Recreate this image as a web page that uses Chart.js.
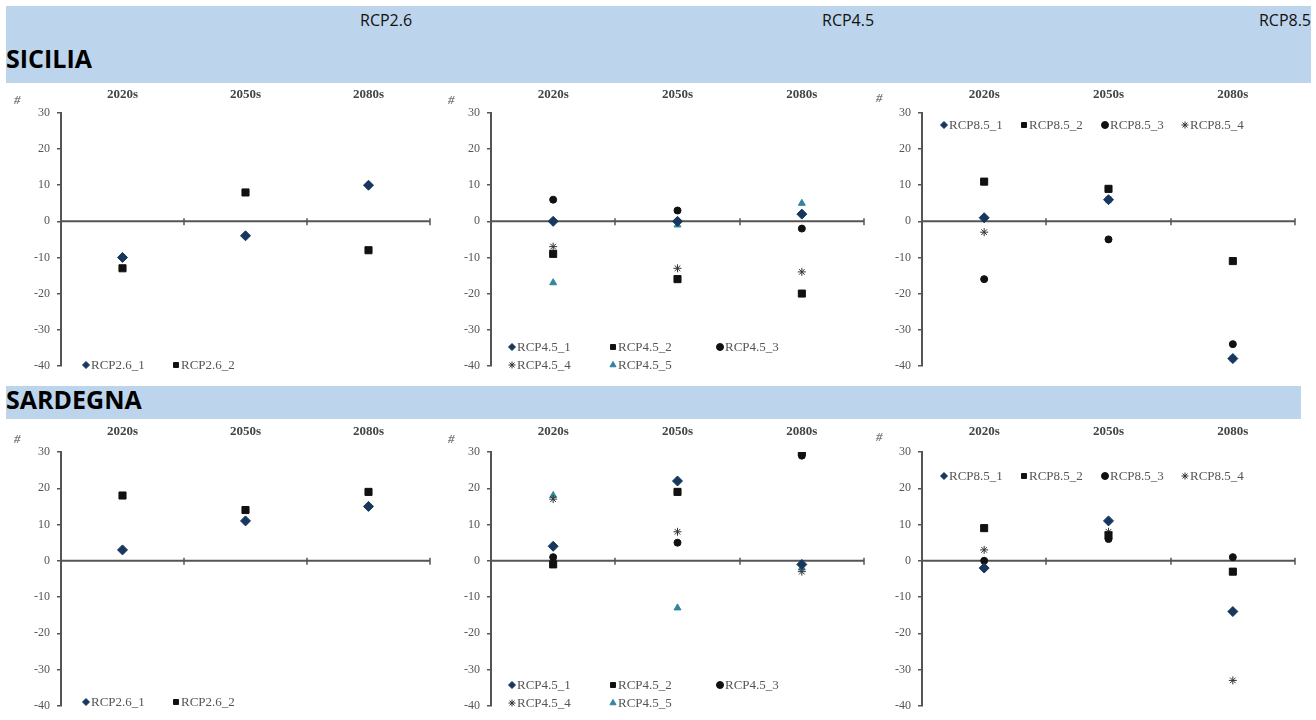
<!DOCTYPE html>
<html>
<head>
<meta charset="utf-8">
<script src="https://cdn.jsdelivr.net/npm/chart.js@4.4.1/dist/chart.umd.min.js"></script>
<style>
  body { margin: 0; background: #fff; width: 1316px; height: 720px; position: relative; overflow: hidden; font-family: "Open Sans", sans-serif; }
  .band { position: absolute; background: #bdd5ec; }
  .band span { position: absolute; white-space: nowrap; }
  .rcp { font-size: 16px; color: #111; }
  .region { font-size: 25px; font-weight: bold; color: #000; }
  .box { position: absolute; }
</style>
</head>
<body>

<div class="band" style="left:6px;top:6px;width:1305px;height:77px;">
  <span class="rcp" style="left:354px;top:3px;">RCP2.6</span>
  <span class="rcp" style="left:816px;top:3px;">RCP4.5</span>
  <span class="rcp" style="right:0;top:3px;">RCP8.5</span>
  <span class="region" style="left:0;top:35px;">SICILIA</span>
</div>
<div class="band" style="left:6px;top:386px;width:1295px;height:33px;">
  <span class="region" style="left:0;top:-4px;">SARDEGNA</span>
</div>

<div class="box" style="left:0;top:84px;width:436px;height:296px;"><canvas id="sic26"></canvas></div>
<div class="box" style="left:436px;top:84px;width:434px;height:296px;"><canvas id="sic45"></canvas></div>
<div class="box" style="left:870px;top:84px;width:446px;height:296px;"><canvas id="sic85"></canvas></div>
<div class="box" style="left:0;top:420px;width:436px;height:300px;"><canvas id="sar26"></canvas></div>
<div class="box" style="left:436px;top:420px;width:434px;height:300px;"><canvas id="sar45"></canvas></div>
<div class="box" style="left:870px;top:420px;width:446px;height:300px;"><canvas id="sar85"></canvas></div>

<script>
// dati (variazione %)
const categories = ['2020s', '2050s', '2080s'];
const yMin = -40, yMax = 30, yStep = 10;

const sic26_1 = [-10, -4, 10];
const sic26_2 = [-13, 8, -8];

const sic45_1 = [0, 0, 2];
const sic45_2 = [-9, -16, -20];
const sic45_3 = [6, 3, -2];
const sic45_4 = [-7, -13, -14];
const sic45_5 = [-17, -1, 5];

const sic85_1 = [1, 6, -38];
const sic85_2 = [11, 9, -11];
const sic85_3 = [-16, -5, -34];
const sic85_4 = [-3, 6, -38];

const sar26_1 = [3, 11, 15];
const sar26_2 = [18, 14, 19];

const sar45_1 = [4, 22, -1];
const sar45_2 = [-1, 19, 30];
const sar45_3 = [1, 5, 29];
const sar45_4 = [17, 8, -3];
const sar45_5 = [18, -13, -2];

const sar85_1 = [-2, 11, -14];
const sar85_2 = [9, 7, -3];
const sar85_3 = [0, 6, 1];
const sar85_4 = [3, 8, -33];

const axisColor = '#555';
const textColor = '#555';
const serif = '"Liberation Serif", "DejaVu Serif", serif';

// stile per serie: _1 rombo blu, _2 quadrato, _3 cerchio, _4 asterisco, _5 triangolo
const markers = [
  { pointStyle: 'rectRot', color: '#17375e', radius: 5 },
  { pointStyle: 'rect', color: '#111', radius: 5 },
  { pointStyle: 'circle', color: '#111', radius: 3.5 },
  { pointStyle: 'star', color: '#333', radius: 4 },
  { pointStyle: 'triangle', color: '#31859c', radius: 4 }
];

const decor = {
  id: 'decor',
  beforeDatasetsDraw(chart, args, o) {
    const { ctx, scales: { x, y } } = chart;
    const y0 = y.getPixelForValue(0);
    ctx.save();
    ctx.strokeStyle = axisColor;
    ctx.lineWidth = 2;
    ctx.beginPath();
    ctx.moveTo(x.left, y0);
    ctx.lineTo(x.right, y0);
    ctx.stroke();
    ctx.lineWidth = 1.5;
    for (let i = 0; i <= categories.length; i++) {
      const px = Math.round(x.getPixelForValue(i - 0.5));
      ctx.beginPath();
      ctx.moveTo(px, y0 - 3);
      ctx.lineTo(px, y0 + 4);
      ctx.stroke();
    }
    ctx.restore();
  },
  afterDraw(chart, args, o) {
    const ctx = chart.ctx;
    ctx.save();
    // segno in alto a sinistra (titolo asse tagliato)
    ctx.fillStyle = '#777';
    ctx.font = 'bold italic 13px ' + serif;
    ctx.textBaseline = 'middle';
    ctx.fillText('#', o.mark[0], o.mark[1]);
    // legenda
    ctx.font = '13px ' + serif;
    chart.data.datasets.forEach((ds, i) => {
      const [lx, ly] = o.legend[i];
      ctx.fillStyle = ds.pointBackgroundColor;
      ctx.strokeStyle = ds.pointBorderColor;
      ctx.lineWidth = 1;
      if (Chart.helpers && Chart.helpers.drawPoint) {
        Chart.helpers.drawPoint(ctx, { pointStyle: ds.pointStyle, radius: 3.5, rotation: 0, borderWidth: 1 }, lx, ly);
      } else {
        ctx.fillRect(lx - 2.5, ly - 2.5, 5, 5);
      }
      ctx.fillStyle = textColor;
      ctx.textAlign = 'left';
      ctx.fillText(ds.label, lx + 5, ly + 1);
    });
    ctx.restore();
  }
};

function makeChart(id, prefix, series, lay) {
  const datasets = series.map((values, i) => ({
    label: prefix + '_' + (i + 1),
    data: values,
    showLine: false,
    pointStyle: markers[i].pointStyle,
    pointRadius: markers[i].radius,
    pointHoverRadius: markers[i].radius,
    pointBackgroundColor: markers[i].color,
    pointBorderColor: markers[i].color,
    pointBorderWidth: 1
  }));

  return new Chart(document.getElementById(id), {
    type: 'line',
    data: { labels: categories, datasets: datasets },
    options: {
      responsive: true,
      maintainAspectRatio: false,
      animation: false,
      events: [],
      layout: { padding: { left: 0, top: 0, right: lay.right, bottom: lay.bottom } },
      plugins: {
        legend: { display: false },
        tooltip: { enabled: false },
        decor: { legend: lay.legend, mark: lay.mark }
      },
      scales: {
        x: {
          position: 'top',
          offset: true,
          grid: { display: false, drawTicks: false },
          border: { display: false },
          ticks: { color: '#444', font: { family: serif, size: 13, weight: 'bold' }, padding: lay.labelPad, maxRotation: 0 },
          afterFit: s => { s.height = lay.top; }
        },
        y: {
          min: yMin,
          max: yMax,
          ticks: { stepSize: yStep, color: textColor, font: { family: serif, size: 12 }, padding: 7 },
          grid: { display: true, drawOnChartArea: false, drawTicks: true, tickLength: 4, color: axisColor, lineWidth: 1.5 },
          border: { display: true, color: axisColor, width: 2 },
          afterFit: s => { s.width = lay.left; }
        }
      }
    },
    plugins: [decor]
  });
}

makeChart('sic26', 'RCP2.6', [sic26_1, sic26_2],
  { left: 61, right: 3, top: 29, bottom: 5, labelPad: 11, mark: [14, 17], legend: [[86, 281], [176, 281]] });
makeChart('sic45', 'RCP4.5', [sic45_1, sic45_2, sic45_3, sic45_4, sic45_5],
  { left: 55, right: 5, top: 29, bottom: 5, labelPad: 11, mark: [12, 17], legend: [[76, 263], [177, 263], [284, 263], [76, 281], [177, 281]] });
makeChart('sic85', 'RCP8.5', [sic85_1, sic85_2, sic85_3, sic85_4],
  { left: 52, right: 21, top: 29, bottom: 5, labelPad: 11, mark: [6, 15], legend: [[74, 41], [154, 41], [235, 41], [315, 41]] });

makeChart('sar26', 'RCP2.6', [sar26_1, sar26_2],
  { left: 61, right: 3, top: 32, bottom: 7, labelPad: 13, mark: [14, 20], legend: [[86, 282], [176, 282]] });
makeChart('sar45', 'RCP4.5', [sar45_1, sar45_2, sar45_3, sar45_4, sar45_5],
  { left: 55, right: 5, top: 32, bottom: 7, labelPad: 13, mark: [12, 20], legend: [[76, 265], [177, 265], [284, 265], [76, 283], [177, 283]] });
makeChart('sar85', 'RCP8.5', [sar85_1, sar85_2, sar85_3, sar85_4],
  { left: 52, right: 21, top: 32, bottom: 7, labelPad: 13, mark: [6, 18], legend: [[74, 56], [154, 56], [235, 56], [315, 56]] });
</script>
</body>
</html>
